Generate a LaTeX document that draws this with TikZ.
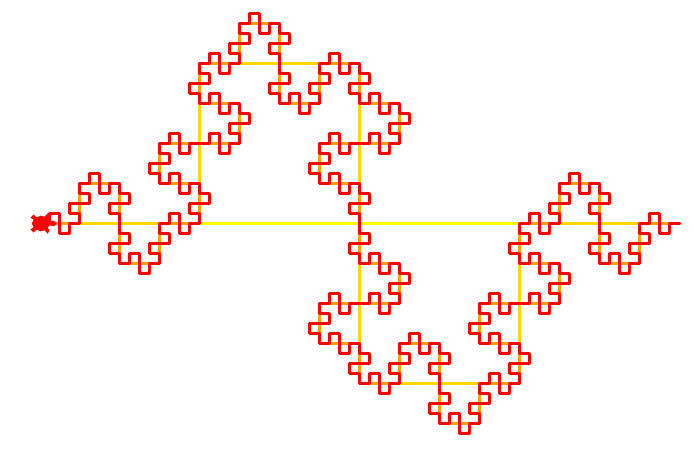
\documentclass[tikz,border=0pt]{standalone}
\usetikzlibrary{lindenmayersystems}
\pgfdeclarelindenmayersystem{Minkowski}{\rule{F -> F+F-F-FF+F+F-F}}
\definecolor{lvlzero}{RGB}{255,255,0}
\definecolor{lvlone}{RGB}{255,215,0}
\definecolor{lvltwo}{RGB}{255,165,0}
\definecolor{lvlthree}{RGB}{255,0,0}
\tikzset{
  curve/.style={line width=3.2pt,line join=round,line cap=round},
  mink/.style n args={2}{lindenmayer system={Minkowski, axiom=F, order=#1, step=#2, angle=90}}
}
\begin{document}
\begin{tikzpicture}[x=1pt,y=1pt]
\useasboundingbox (0,0) rectangle (694,451);
\fill[white] (0,0) rectangle (694,451);
\begin{scope}[shift={(39.6,227.5)}]
\draw[curve,lvlzero] (0,0) -- (640,0);
\draw[curve,lvlone,mink={1}{160pt}] (0,0) lindenmayer system;
\draw[curve,lvltwo,mink={2}{40pt}] (0,0) lindenmayer system;
\draw[curve,lvlthree,mink={3}{10pt}] (0,0) lindenmayer system;
\fill[lvlthree,line width=1.5pt,draw=lvlthree]
  (16,0)--(14,-2)--(10,-1)--(7,-4)--(9,-7)--(8,-9)--(5,-6)--(1,-7)--(-3,-5)--(-6,-8)--(-8,-6)--(-5,-4)--(-7,0)--(-5,4)--(-8,6)--(-6,8)--(-3,5)--(1,7)--(5,6)--(8,9)--(9,7)--(7,4)--(10,1)--(14,2)--cycle;
\end{scope}
\end{tikzpicture}
\end{document}
